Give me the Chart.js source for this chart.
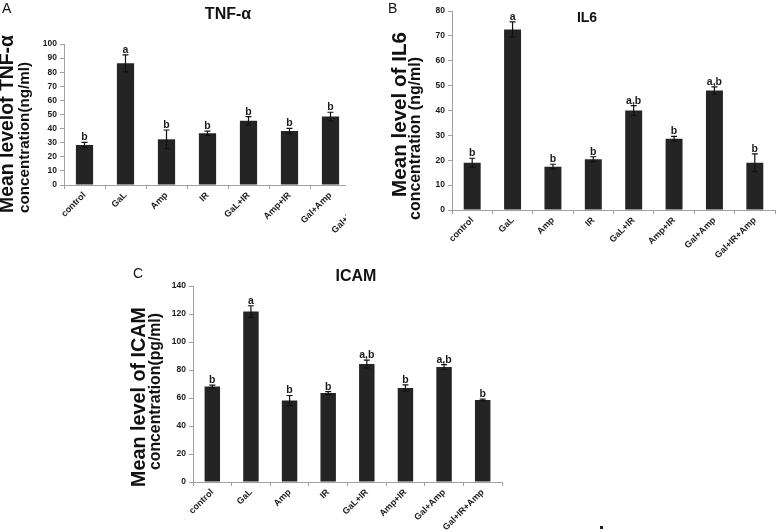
<!DOCTYPE html>
<html><head><meta charset="utf-8">
<script src="https://cdn.jsdelivr.net/npm/chart.js@4.4.1/dist/chart.umd.min.js"></script>
<style>
html,body{margin:0;padding:0;background:#fff;}
body{width:777px;height:532px;position:relative;overflow:hidden;}
.panel{position:absolute;font-family:'Liberation Sans',Arial,sans-serif;font-size:14px;line-height:14px;color:#111;}
#wrapA{position:absolute;left:0;top:0;width:346px;height:262px;overflow:hidden;}
canvas{position:absolute;}
</style></head><body>
<div id="wrapA"><canvas id="cA" width="400" height="262" style="left:0;top:0"></canvas></div>
<canvas id="cB" width="387" height="270" style="left:390px;top:0"></canvas>
<canvas id="cC" width="420" height="270" style="left:120px;top:262px"></canvas>
<div class="panel" style="left:2px;top:1px">A</div>
<div class="panel" style="left:388px;top:1px">B</div>
<div class="panel" style="left:133px;top:266px">C</div>
<div style="position:absolute;left:600px;top:526px;width:3px;height:3px;background:#222"></div>
<script>
// ---- data ----
const categories = ['control','GaL','Amp','IR','GaL+IR','Amp+IR','Gal+Amp','Gal+IR+Amp'];

const tnfValues  = [28.4, 86.3, 32.4, 36.7, 45.6, 38.3, 48.5, null];
const tnfErrors  = [1.9, 6.0, 6.6, 1.5, 2.9, 1.9, 3.1, null];
const tnfLetters = ['b','a','b','b','b','b','b',''];
const tnfTicks   = [0,10,20,30,40,50,60,70,80,90,100];

const il6Values  = [19.0, 72.6, 17.4, 20.4, 40.0, 28.6, 48.0, 19.0];
const il6Errors  = [1.8, 3.0, 1.0, 1.0, 2.0, 1.0, 1.5, 3.6];
const il6Letters = ['b','a','b','b','a,b','b','a,b','b'];
const il6Ticks   = [0,10,20,30,40,50,60,70,80];

const icamValues  = [68.2, 121.7, 58.2, 63.5, 84.3, 67.1, 82.1, 58.6];
const icamErrors  = [1.0, 4.2, 3.6, 1.0, 2.8, 2.3, 1.8, 0.6];
const icamLetters = ['b','a','b','b','a,b','b','a,b','b'];
const icamTicks   = [0,20,40,60,80,100,120,140];

// ---- drawing ----
const FONT = "'Liberation Sans', Arial, sans-serif";

function makeAnnot(cfg) {
  return {
    id: 'annot',
    afterDatasetsDraw(chart) {
      const ctx = chart.ctx, xs = chart.scales.x, ys = chart.scales.y;
      ctx.save();
      cfg.values.forEach((v, i) => {
        if (v == null) return;
        const px = xs.getPixelForValue(i);
        const top = ys.getPixelForValue(v + cfg.errors[i]);
        const bot = ys.getPixelForValue(v - cfg.errors[i]);
        ctx.strokeStyle = '#111'; ctx.lineWidth = 1.2;
        ctx.beginPath();
        ctx.moveTo(px, top); ctx.lineTo(px, bot);
        ctx.moveTo(px - 3, top); ctx.lineTo(px + 3, top);
        ctx.moveTo(px - 3, bot); ctx.lineTo(px + 3, bot);
        ctx.stroke();
        ctx.fillStyle = '#1a1a1a';
        ctx.font = 'bold 10.5px ' + FONT;
        ctx.textAlign = 'center'; ctx.textBaseline = 'alphabetic';
        ctx.fillText(cfg.letters[i], px, top - 2);
      });
      ctx.fillStyle = '#111';
      ctx.font = 'bold ' + cfg.title.size + 'px ' + FONT;
      ctx.textAlign = 'center'; ctx.textBaseline = 'middle';
      ctx.fillText(cfg.title.text, cfg.title.x, cfg.title.y);
      cfg.yTitle.forEach(l => {
        ctx.save();
        ctx.font = 'bold 20px ' + FONT;
        const w = ctx.measureText(l.text).width;
        const size = 20 * (l.y1 - l.y0) / w;
        ctx.font = 'bold ' + size.toFixed(2) + 'px ' + FONT;
        ctx.translate(l.x, (l.y0 + l.y1) / 2);
        ctx.rotate(-Math.PI / 2);
        ctx.fillText(l.text, 0, 0);
        ctx.restore();
      });
      ctx.restore();
    }
  };
}

function makeChart(id, cfg) {
  const t = cfg.ticks;
  return new Chart(document.getElementById(id), {
    type: 'bar',
    data: {
      labels: categories,
      datasets: [{
        data: cfg.values,
        backgroundColor: '#242424',
        borderWidth: 0,
        barPercentage: cfg.barPct,
        categoryPercentage: 1
      }]
    },
    options: {
      responsive: false,
      animation: false,
      devicePixelRatio: 1,
      layout: { padding: cfg.padding },
      plugins: { legend: { display: false }, tooltip: { enabled: false }, title: { display: false } },
      scales: {
        x: {
          afterFit: s => { s.height = cfg.xHeight; },
          grid: { display: true, drawOnChartArea: false, drawTicks: true, tickLength: 4, color: '#a0a0a0', offset: true },
          border: { display: true, color: '#a0a0a0', width: 1 },
          ticks: { autoSkip: false, maxRotation: 45, minRotation: 45, padding: 1,
                   color: '#1a1a1a', font: { family: FONT, weight: 'bold', size: 9 } }
        },
        y: {
          min: t[0], max: t[t.length - 1],
          afterFit: s => { s.width = cfg.yWidth; },
          grid: { display: true, drawOnChartArea: false, drawTicks: true, tickLength: 4, color: '#a0a0a0' },
          border: { display: true, color: '#a0a0a0', width: 1 },
          ticks: { stepSize: t[1] - t[0], padding: 3, color: '#1a1a1a',
                   font: { family: FONT, weight: 'bold', size: 8.5 } }
        }
      }
    },
    plugins: [makeAnnot(cfg)]
  });
}

makeChart('cA', {
  values: tnfValues, errors: tnfErrors, letters: tnfLetters, ticks: tnfTicks,
  barPct: 0.42, padding: { left: 0, top: 44, right: 8, bottom: 0 }, yWidth: 64, xHeight: 77,
  title: { text: 'TNF-α', size: 16, x: 228, y: 15 },
  yTitle: [
    { text: 'Mean levelof TNF-α', x: 8, y0: 35, y1: 213 },
    { text: 'concentration(ng/ml)', x: 24.5, y0: 62, y1: 213 }
  ]
});

makeChart('cB', {
  values: il6Values, errors: il6Errors, letters: il6Letters, ticks: il6Ticks,
  barPct: 0.42, padding: { left: 0, top: 11, right: 2, bottom: 0 }, yWidth: 62, xHeight: 60,
  title: { text: 'IL6', size: 14, x: 197, y: 18 },
  yTitle: [
    { text: 'Mean level of IL6', x: 10, y0: 32, y1: 197 },
    { text: 'concentration (ng/ml)', x: 25.5, y0: 57, y1: 220 }
  ]
});

makeChart('cC', {
  values: icamValues, errors: icamErrors, letters: icamLetters, ticks: icamTicks,
  barPct: 0.40, padding: { left: 0, top: 24, right: 38, bottom: 0 }, yWidth: 73, xHeight: 50,
  title: { text: 'ICAM', size: 16, x: 236, y: 15 },
  yTitle: [
    { text: 'Mean level of ICAM', x: 20, y0: 45, y1: 225 },
    { text: 'concentration(pg/ml)', x: 35.5, y0: 51, y1: 208 }
  ]
});
</script>
</body></html>
